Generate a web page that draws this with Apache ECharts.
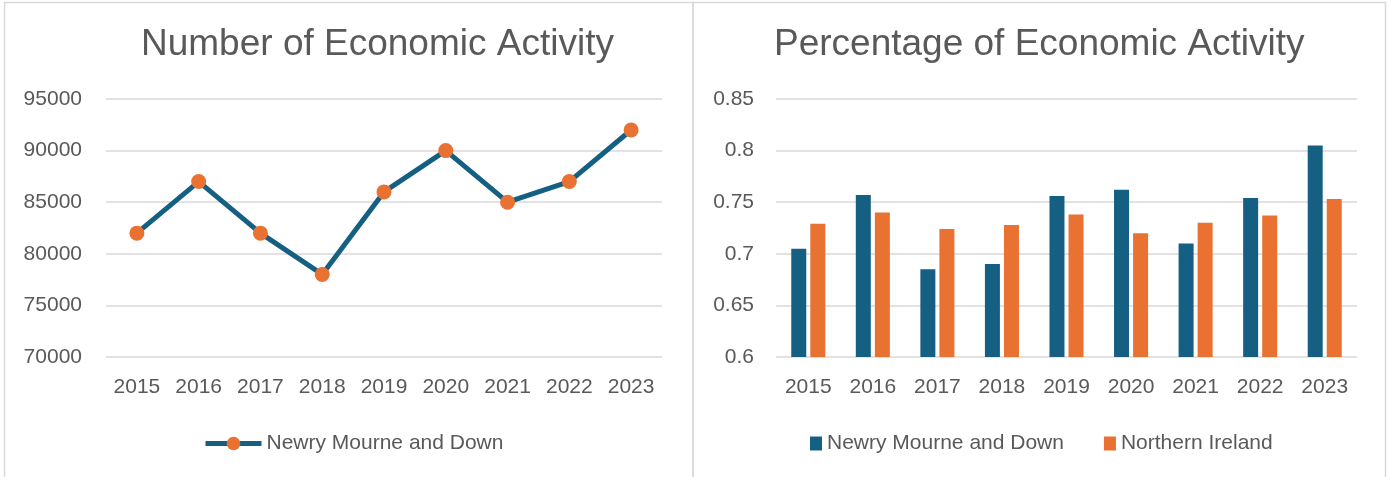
<!DOCTYPE html>
<html>
<head>
<meta charset="utf-8">
<script src="https://cdn.jsdelivr.net/npm/echarts@6/dist/echarts.min.js"></script>
<style>
html,body{margin:0;padding:0;background:#fff;}
#c{width:1391px;height:477px;}
</style>
</head>
<body>
<div id="c"></div>
<script>
const years = ['2015','2016','2017','2018','2019','2020','2021','2022','2023'];
const economicActivityCount = [82000, 87000, 82000, 78000, 86000, 90000, 85000, 87000, 92000];
const nmdRate = [0.705, 0.757, 0.685, 0.690, 0.756, 0.762, 0.710, 0.754, 0.805];
const niRate = [0.729, 0.740, 0.724, 0.728, 0.738, 0.720, 0.730, 0.737, 0.753];
const leftTitle = 'Number of Economic Activity';
const rightTitle = 'Percentage of Economic Activity';
const nmdName = 'Newry Mourne and Down';
const niName = 'Northern Ireland';

const BLUE = '#156082';
const ORANGE = '#E97132';
const TEXT = '#595959';
const GRID = '#d9d9d9';
const FONT = '"Liberation Sans", Arial, sans-serif';

const chart = echarts.init(document.getElementById('c'), null, {renderer: 'canvas'});
const axisLabelStyle = {color: TEXT, fontSize: 21, fontFamily: FONT};
const legendText = {color: TEXT, fontSize: 21, fontFamily: FONT};

chart.setOption({
  animation: false,
  backgroundColor: '#fff',
  textStyle: {fontFamily: FONT},
  graphic: [
    {type: 'rect', shape: {x: 4.5, y: 2.5, width: 688.5, height: 500}, style: {fill: 'none', stroke: GRID, lineWidth: 1.5}, silent: true, z: -1},
    {type: 'rect', shape: {x: 693, y: 2.5, width: 692.5, height: 500}, style: {fill: 'none', stroke: GRID, lineWidth: 1.5}, silent: true, z: -1}
  ],
  title: [
    {text: leftTitle, left: 141, top: 26, padding: 0, textStyle: {color: TEXT, fontSize: 37, fontWeight: 'normal', fontFamily: FONT}},
    {text: rightTitle, left: 774, top: 26, padding: 0, textStyle: {color: TEXT, fontSize: 37, fontWeight: 'normal', fontFamily: FONT}}
  ],
  legend: [
    {data: [{name: nmdName, itemStyle: {color: ORANGE}, lineStyle: {color: BLUE, width: 5}}],
      left: 203, top: 433, padding: 0, itemWidth: 56, itemHeight: 17, textStyle: legendText},
    {data: [{name: nmdName, itemStyle: {color: BLUE}}, {name: niName, itemStyle: {color: ORANGE}}],
      left: 810, top: 433, padding: 0, itemWidth: 12, itemHeight: 14, itemGap: 40, icon: 'rect',
      textStyle: legendText}
  ],
  grid: [
    {left: 106, right: 729, top: 99, bottom: 120},
    {left: 776, right: 34, top: 99, bottom: 120}
  ],
  xAxis: [
    {type: 'category', gridIndex: 0, data: years, boundaryGap: true,
      axisLine: {show: false}, axisTick: {show: false},
      axisLabel: Object.assign({margin: 20}, axisLabelStyle)},
    {type: 'category', gridIndex: 1, data: years, boundaryGap: true,
      axisLine: {show: false}, axisTick: {show: false},
      axisLabel: Object.assign({margin: 20}, axisLabelStyle)}
  ],
  yAxis: [
    {type: 'value', gridIndex: 0, min: 70000, max: 95000, interval: 5000,
      axisLine: {show: false}, axisTick: {show: false},
      splitLine: {lineStyle: {color: GRID, width: 1.5}},
      axisLabel: Object.assign({margin: 24, formatter: v => String(v)}, axisLabelStyle)},
    {type: 'value', gridIndex: 1, min: 0.6, max: 0.85, interval: 0.05,
      axisLine: {show: false}, axisTick: {show: false},
      splitLine: {lineStyle: {color: GRID, width: 1.5}},
      axisLabel: Object.assign({margin: 22, formatter: v => String(+v.toFixed(2))}, axisLabelStyle)}
  ],
  series: [
    {name: nmdName, type: 'line', xAxisIndex: 0, yAxisIndex: 0, data: economicActivityCount,
      lineStyle: {color: BLUE, width: 5}, itemStyle: {color: ORANGE},
      symbol: 'circle', symbolSize: 15, showAllSymbol: true},
    {name: nmdName, type: 'bar', xAxisIndex: 1, yAxisIndex: 1, data: nmdRate,
      itemStyle: {color: BLUE}, barWidth: 15, barGap: '27%'},
    {name: niName, type: 'bar', xAxisIndex: 1, yAxisIndex: 1, data: niRate,
      itemStyle: {color: ORANGE}, barWidth: 15, barGap: '27%'}
  ]
});
</script>
</body>
</html>
